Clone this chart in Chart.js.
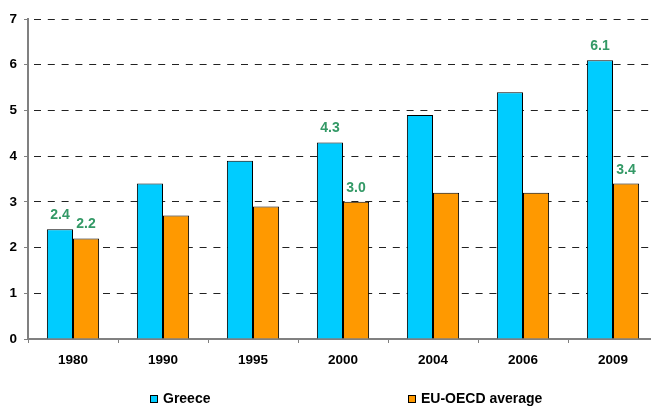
<!DOCTYPE html>
<html>
<head>
<meta charset="utf-8">
<script src="https://cdn.jsdelivr.net/npm/chart.js@4/dist/chart.umd.min.js"></script>
<style>
  html, body { margin: 0; padding: 0; background: #fff; overflow: hidden; }
  #wrap { position: absolute; left: 0; top: 0; width: 660px; height: 406px; }
</style>
</head>
<body>
<div id="wrap"><canvas id="chart" width="660" height="406"></canvas></div>
<script>
const years = ['1980', '1990', '1995', '2000', '2004', '2006', '2009'];
const greece = [2.4, 3.4, 3.9, 4.3, 4.9, 5.4, 6.1];
const euOecd = [2.2, 2.7, 2.9, 3.0, 3.2, 3.2, 3.4];
const yTicks = [0, 1, 2, 3, 4, 5, 6, 7];
const labelledYears = ['1980', '2000', '2009'];

const FONT = 'Arial, "Liberation Sans", sans-serif';

// green value labels above the chosen years
const valueLabels = {
  id: 'valueLabels',
  afterDatasetsDraw(chart) {
    const ctx = chart.ctx;
    ctx.save();
    ctx.font = 'bold 14px ' + FONT;
    ctx.fillStyle = '#339966';
    ctx.textAlign = 'center';
    ctx.textBaseline = 'alphabetic';
    chart.data.datasets.forEach((ds, di) => {
      const meta = chart.getDatasetMeta(di);
      chart.data.labels.forEach((yr, i) => {
        if (!labelledYears.includes(yr)) return;
        const bar = meta.data[i];
        ctx.fillText(ds.data[i].toFixed(1), bar.x, bar.y - 10);
      });
    });
    ctx.restore();
  }
};

// legend spread out like the original
const wideLegend = {
  id: 'wideLegend',
  afterDraw(chart) {
    const ctx = chart.ctx;
    const left = chart.chartArea.left;
    const xs = [left + 122, left + 380];
    ctx.save();
    ctx.font = 'bold 14px ' + FONT;
    ctx.textBaseline = 'middle';
    ctx.textAlign = 'left';
    chart.data.datasets.forEach((ds, i) => {
      const x = xs[i], y = 395;
      ctx.fillStyle = ds.backgroundColor;
      ctx.fillRect(x, y, 8, 8);
      ctx.strokeStyle = '#000';
      ctx.lineWidth = 1;
      ctx.strokeRect(x + 0.5, y + 0.5, 7, 7);
      ctx.fillStyle = '#000';
      ctx.fillText(ds.label, x + 13, y + 4);
    });
    ctx.restore();
  }
};

new Chart(document.getElementById('chart'), {
  type: 'bar',
  data: {
    labels: years,
    datasets: [
      { label: 'Greece', data: greece, backgroundColor: '#00CCFF', borderColor: '#000', borderWidth: 1 },
      { label: 'EU-OECD average', data: euOecd, backgroundColor: '#FF9900', borderColor: '#000', borderWidth: 1 }
    ]
  },
  options: {
    responsive: false,
    animation: false,
    layout: { padding: { top: 19, right: 2, bottom: 40, left: 0 } },
    datasets: { bar: { categoryPercentage: 0.58, barPercentage: 1.0 } },
    plugins: { legend: { display: false }, tooltip: { enabled: false } },
    scales: {
      x: {
        afterFit: s => { s.height = 27; },
        grid: { drawOnChartArea: false, drawTicks: true, tickLength: 4, color: '#808080' },
        border: { display: true, color: '#808080', width: 2 },
        ticks: { color: '#000', padding: 9, font: { family: FONT, size: 13.5, weight: 'bold' } }
      },
      y: {
        min: 0,
        max: 7,
        afterFit: s => { s.width = 28; },
        afterBuildTicks: s => { s.ticks = yTicks.map(v => ({ value: v })); },
        grid: {
          color: '#222',
          lineWidth: 1,
          tickLength: 4,
          tickColor: '#808080',
          tickBorderDash: []
        },
        border: { display: true, color: '#808080', width: 2, dash: [7, 6.8], dashOffset: 8.8 },
        ticks: { color: '#000', padding: 7, font: { family: FONT, size: 13.5, weight: 'bold' } }
      }
    }
  },
  plugins: [valueLabels, wideLegend]
});
</script>
</body>
</html>
